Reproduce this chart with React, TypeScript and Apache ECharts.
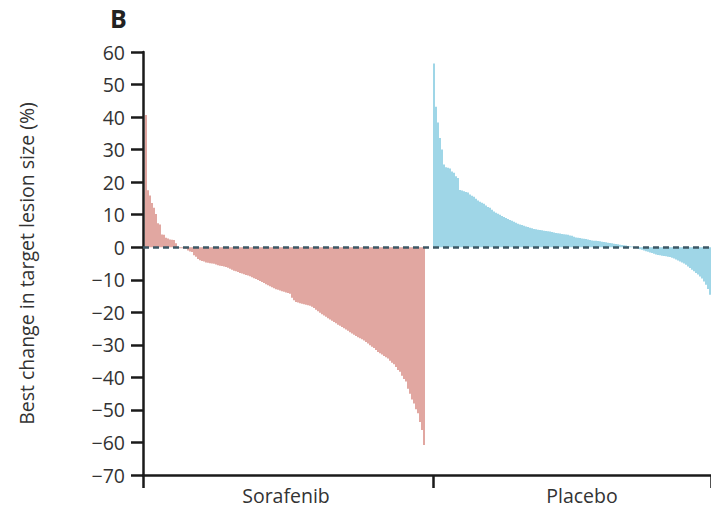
import React, { useEffect, useRef } from "react";
import * as echarts from "echarts";

const SORAFENIB: number[] = [
  40.6, 17.5, 15.9, 13.6, 12.1, 10.2, 7.4, 7.0, 3.9, 3.8, 2.9, 2.7, 2.4, 2.3, 2.2, 1.2,
  -0.2, -0.3, -0.3, -0.4, -0.5,
  -1.0, -1.3, -1.5,
  -2.5, -2.9,
  -3.6, -4.0, -4.2, -4.4,
  -4.7, -4.8, -4.9, -5.0, -5.1, -5.3,
  -5.5, -5.7, -5.8, -5.9, -6.1, -6.3, -6.6,
  -6.9, -7.2, -7.4, -7.6, -7.9,
  -8.1, -8.3, -8.5, -8.7, -8.9, -9.2,
  -9.5, -9.8, -10.1, -10.4, -10.7,
  -11.0, -11.4, -11.7, -12.0, -12.3, -12.6, -12.9,
  -13.1, -13.3, -13.5, -13.7, -13.9, -14.1, -14.3,
  -15.5, -16.3, -16.8, -17.0,
  -17.2, -17.4, -17.5, -17.7, -17.8, -18.0, -18.3, -18.7,
  -19.2, -19.7, -20.1,
  -20.6, -21.0, -21.4, -21.8, -22.2, -22.6, -23.0,
  -23.4, -23.8, -24.1, -24.5, -24.9,
  -25.3, -25.7, -26.1, -26.5, -26.9, -27.3,
  -27.7, -28.0, -28.3, -28.7, -29.1, -29.6,
  -30.1, -30.6, -31.0,
  -31.6, -32.2, -32.6, -33.0, -33.4, -33.8, -34.2,
  -34.9, -35.5, -36.0,
  -36.8, -37.7, -38.3,
  -39.5, -40.5, -41.3,
  -43.5, -45.0,
  -46.8, -48.0,
  -49.8, -51.0,
  -53.7, -56.2, -60.8,
];

const PLACEBO: number[] = [
  56.5, 43.2, 38.3, 33.6, 30.0, 25.4,
  24.6, 24.4, 24.2,
  23.3, 22.9,
  21.8, 21.3,
  17.6, 17.4, 17.2, 17.0, 16.8,
  16.2, 15.8, 15.5,
  14.9, 14.4, 14.0, 13.7, 13.4,
  12.8, 12.4, 12.1,
  11.5, 11.0, 10.6, 10.3, 10.0,
  9.6, 9.3, 9.0, 8.7, 8.4, 8.1, 7.8,
  7.5, 7.2, 7.0, 6.8, 6.6, 6.4, 6.2,
  6.0, 5.8,
  5.6, 5.5, 5.4, 5.3, 5.2, 5.1, 5.0, 4.9, 4.8, 4.7,
  4.5, 4.4, 4.3, 4.2, 4.1, 4.0, 3.9, 3.8, 3.6, 3.5,
  3.2, 3.0, 2.9, 2.8, 2.7, 2.6, 2.5, 2.4,
  2.2, 2.1, 2.0, 2.0, 1.9, 1.8, 1.7, 1.6, 1.5, 1.4,
  1.3, 1.2, 1.1, 1.0, 0.9, 0.8, 0.7, 0.6, 0.5, 0.4,
  0.3, 0.2, 0.1,
  -0.2, -0.4, -0.6, -0.8, -1.0, -1.2,
  -1.4, -1.6, -1.8, -2.0, -2.2, -2.4,
  -2.5, -2.6, -2.7, -2.8, -2.9, -3.0, -3.2,
  -3.5, -3.8, -4.1, -4.4, -4.7, -5.0, -5.4,
  -5.9, -6.4, -6.9, -7.4, -7.9,
  -8.4, -9.0, -9.6,
  -10.5, -11.5,
  -12.8, -14.6,
];

const GROUPS: string[] = ["Sorafenib", "Placebo"];
const Y_TITLE = "Best change in target lesion size (%)";
const PANEL = "B";

const LEAD = 1;
const GAP = 4;

export default function App() {
  const ref = useRef<HTMLDivElement>(null);

  useEffect(() => {
    if (!ref.current) return;
    const chart = echarts.init(ref.current, null, { renderer: "svg" });

    const placeboStart = LEAD + SORAFENIB.length + GAP;
    const total = placeboStart + PLACEBO.length;
    const categories = Array.from({ length: total }, (_, i) => String(i));
    const sorData: (number | string)[] = categories.map((_, i) =>
      i >= LEAD && i < LEAD + SORAFENIB.length ? SORAFENIB[i - LEAD] : "-"
    );
    const plaData: (number | string)[] = categories.map((_, i) =>
      i >= placeboStart ? PLACEBO[i - placeboStart] : "-"
    );
    const sorLabelIdx = LEAD + 70;
    const plaLabelIdx = placeboStart + 74;
    const font = "Open Sans";
    const txt = "#333333";

    chart.setOption({
      animation: false,
      grid: { left: 143, right: 0, top: 52, bottom: 35, containLabel: false },
      graphic: [
        {
          type: "text",
          left: 110,
          top: 5,
          style: { text: PANEL, font: `bold 25px "${font}"`, fill: "#222" },
        },
      ],
      xAxis: {
        type: "category",
        data: categories,
        boundaryGap: true,
        axisLine: { onZero: false, lineStyle: { color: "#1a1a1a", width: 2.5 } },
        axisTick: {
          show: true,
          length: 13,
          lineStyle: { color: "#1a1a1a", width: 2.5 },
          interval: (i: number) => i === 0 || i === placeboStart,
        },
        axisLabel: {
          interval: (i: number) => i === sorLabelIdx || i === plaLabelIdx,
          formatter: (v: string) =>
            Number(v) === sorLabelIdx ? GROUPS[0] : Number(v) === plaLabelIdx ? GROUPS[1] : "",
          margin: 10,
          fontSize: 19.5,
          fontFamily: font,
          color: txt,
        },
        splitLine: { show: false },
      },
      yAxis: {
        type: "value",
        min: -70,
        max: 60,
        interval: 10,
        name: Y_TITLE,
        nameLocation: "middle",
        nameRotate: 90,
        nameGap: 107,
        nameTextStyle: { fontSize: 19.5, fontFamily: font, color: txt },
        axisLine: { show: true, lineStyle: { color: "#1a1a1a", width: 2.5 } },
        axisTick: { show: true, length: 12, lineStyle: { color: "#1a1a1a", width: 2.5 } },
        axisLabel: {
          margin: 18,
          fontSize: 19.5,
          fontFamily: font,
          color: txt,
          formatter: (v: number) => (v < 0 ? "\u2212" + Math.abs(v) : String(v)),
        },
        splitLine: { show: false },
      },
      series: [
        {
          type: "bar",
          name: GROUPS[0],
          data: sorData,
          stack: "all",
          barCategoryGap: 0,
          itemStyle: { color: "#e1a7a1" },
          z: 2,
          markLine: {
            silent: true,
            symbol: "none",
            label: { show: false },
            lineStyle: { color: "#3d5866", width: 2.5, type: [6, 4] },
            data: [{ yAxis: 0 }],
            z: 5,
          },
        },
        {
          type: "bar",
          name: GROUPS[1],
          data: plaData,
          stack: "all",
          barCategoryGap: 0,
          itemStyle: { color: "#9fd6e7" },
          z: 2,
        },
      ],
    });

    return () => chart.dispose();
  }, []);

  return (
    <div
      ref={ref}
      style={{ position: "fixed", left: 0, top: 0, width: 711, height: 510, background: "#fff" }}
    />
  );
}
